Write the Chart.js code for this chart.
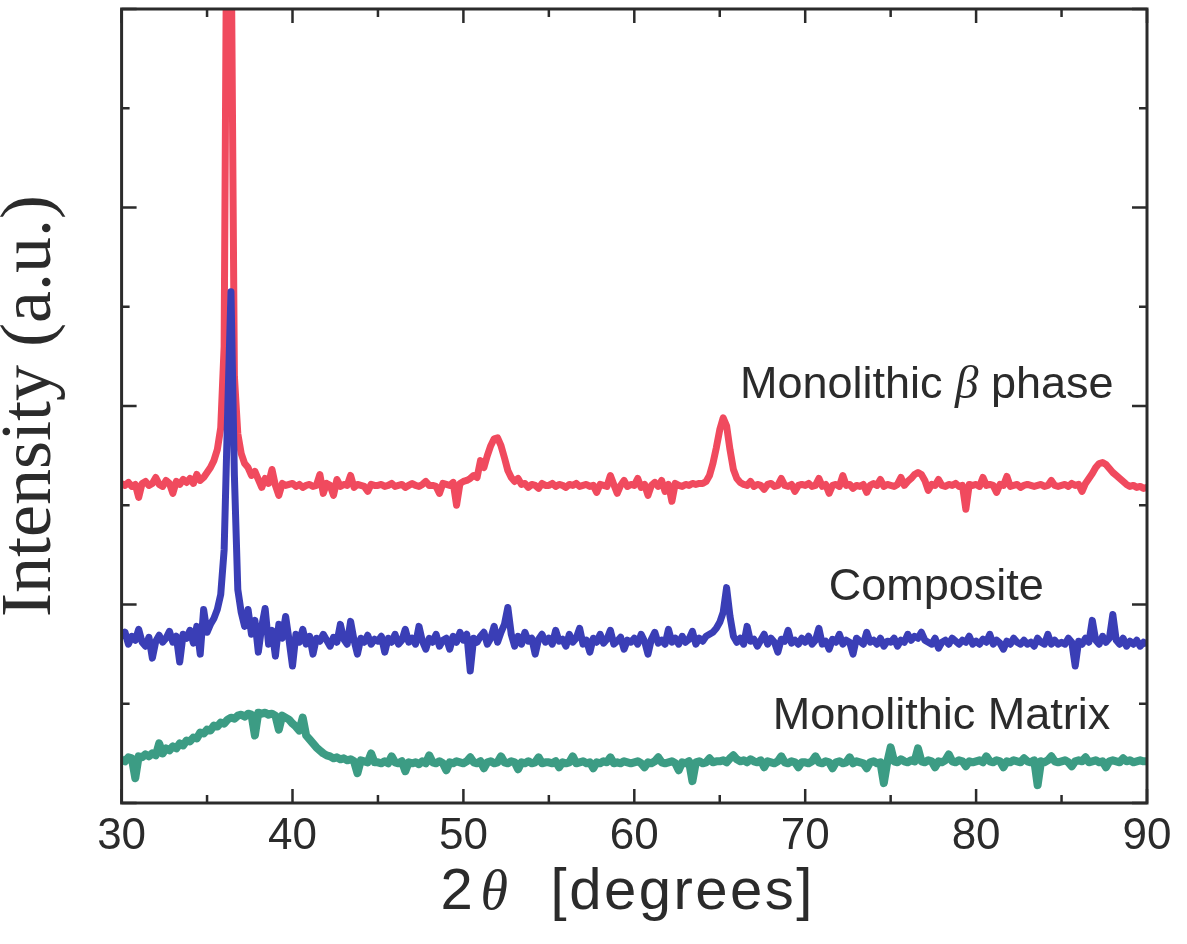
<!DOCTYPE html>
<html>
<head>
<meta charset="utf-8">
<title>XRD patterns</title>
<script src="https://cdn.jsdelivr.net/npm/chart.js@4.4.1/dist/chart.umd.min.js"></script>
<style>
  html, body { margin: 0; padding: 0; background: #fff; }
  #wrap { width: 1187px; height: 944px; }
</style>
</head>
<body>
<div id="wrap"><canvas id="xrdChart" width="1187" height="944"></canvas></div>
<script>
/* ---------------------------------------------------------
   Data: 2-theta grid (deg) and the three scans (a.u.),
   each scan already offset so the curves stack.
--------------------------------------------------------- */
const TWO_THETA = [
  30, 30.2, 30.4, 30.6, 30.8, 31, 31.2, 31.4, 31.6, 31.8, 32, 32.2, 32.4, 32.6, 32.8, 33, 33.2, 33.4, 33.6, 33.8, 34, 34.2, 34.4, 34.6, 34.8,
  35, 35.2, 35.4, 35.6, 35.8, 36, 36.2, 36.4, 36.6, 36.8, 37, 37.2, 37.4, 37.6, 37.8, 38, 38.2, 38.4, 38.6, 38.8, 39, 39.2, 39.4, 39.6, 39.8,
  40, 40.2, 40.4, 40.6, 40.8, 41, 41.2, 41.4, 41.6, 41.8, 42, 42.2, 42.4, 42.6, 42.8, 43, 43.2, 43.4, 43.6, 43.8, 44, 44.2, 44.4, 44.6, 44.8,
  45, 45.2, 45.4, 45.6, 45.8, 46, 46.2, 46.4, 46.6, 46.8, 47, 47.2, 47.4, 47.6, 47.8, 48, 48.2, 48.4, 48.6, 48.8, 49, 49.2, 49.4, 49.6, 49.8,
  50, 50.2, 50.4, 50.6, 50.8, 51, 51.2, 51.4, 51.6, 51.8, 52, 52.2, 52.4, 52.6, 52.8, 53, 53.2, 53.4, 53.6, 53.8, 54, 54.2, 54.4, 54.6, 54.8,
  55, 55.2, 55.4, 55.6, 55.8, 56, 56.2, 56.4, 56.6, 56.8, 57, 57.2, 57.4, 57.6, 57.8, 58, 58.2, 58.4, 58.6, 58.8, 59, 59.2, 59.4, 59.6, 59.8,
  60, 60.2, 60.4, 60.6, 60.8, 61, 61.2, 61.4, 61.6, 61.8, 62, 62.2, 62.4, 62.6, 62.8, 63, 63.2, 63.4, 63.6, 63.8, 64, 64.2, 64.4, 64.6, 64.8,
  65, 65.2, 65.4, 65.6, 65.8, 66, 66.2, 66.4, 66.6, 66.8, 67, 67.2, 67.4, 67.6, 67.8, 68, 68.2, 68.4, 68.6, 68.8, 69, 69.2, 69.4, 69.6, 69.8,
  70, 70.2, 70.4, 70.6, 70.8, 71, 71.2, 71.4, 71.6, 71.8, 72, 72.2, 72.4, 72.6, 72.8, 73, 73.2, 73.4, 73.6, 73.8, 74, 74.2, 74.4, 74.6, 74.8,
  75, 75.2, 75.4, 75.6, 75.8, 76, 76.2, 76.4, 76.6, 76.8, 77, 77.2, 77.4, 77.6, 77.8, 78, 78.2, 78.4, 78.6, 78.8, 79, 79.2, 79.4, 79.6, 79.8,
  80, 80.2, 80.4, 80.6, 80.8, 81, 81.2, 81.4, 81.6, 81.8, 82, 82.2, 82.4, 82.6, 82.8, 83, 83.2, 83.4, 83.6, 83.8, 84, 84.2, 84.4, 84.6, 84.8,
  85, 85.2, 85.4, 85.6, 85.8, 86, 86.2, 86.4, 86.6, 86.8, 87, 87.2, 87.4, 87.6, 87.8, 88, 88.2, 88.4, 88.6, 88.8, 89, 89.2, 89.4, 89.6, 89.8,
  90
];

// monolithic beta phase (top trace)
const BETA_PHASE = [
  3.22, 3.20, 3.23, 3.19, 3.21, 3.08, 3.22, 3.24, 3.20, 3.22, 3.28, 3.21, 3.19, 3.25, 3.22, 3.12, 3.24, 3.21, 3.26, 3.23, 3.27, 3.22, 3.31, 3.25, 3.28,
  3.33, 3.38, 3.45, 3.56, 3.78, 4.60, 10.5, 9.00, 4.30, 3.72, 3.52, 3.42, 3.38, 3.30, 3.34, 3.26, 3.18, 3.27, 3.22, 3.36, 3.20, 3.10, 3.22, 3.20, 3.21,
  3.22, 3.19, 3.21, 3.18, 3.20, 3.21, 3.19, 3.20, 3.31, 3.12, 3.22, 3.20, 3.10, 3.26, 3.19, 3.21, 3.20, 3.30, 3.18, 3.21, 3.20, 3.19, 3.14, 3.21, 3.20,
  3.20, 3.21, 3.19, 3.20, 3.22, 3.19, 3.20, 3.21, 3.18, 3.20, 3.22, 3.20, 3.19, 3.21, 3.24, 3.20, 3.20, 3.19, 3.12, 3.22, 3.21, 3.20, 3.23, 3.00, 3.22,
  3.24, 3.25, 3.27, 3.30, 3.28, 3.45, 3.38, 3.50, 3.60, 3.67, 3.68, 3.60, 3.48, 3.35, 3.28, 3.24, 3.27, 3.21, 3.22, 3.18, 3.21, 3.20, 3.17, 3.22, 3.20,
  3.20, 3.22, 3.19, 3.21, 3.20, 3.18, 3.21, 3.20, 3.22, 3.19, 3.20, 3.21, 3.19, 3.20, 3.13, 3.21, 3.20, 3.19, 3.30, 3.21, 3.12, 3.20, 3.25, 3.19, 3.21,
  3.20, 3.27, 3.18, 3.21, 3.10, 3.20, 3.23, 3.19, 3.25, 3.14, 3.21, 3.04, 3.22, 3.20, 3.19, 3.21, 3.20, 3.22, 3.21, 3.22, 3.22, 3.24, 3.30, 3.42, 3.58,
  3.76, 3.88, 3.80, 3.56, 3.36, 3.27, 3.23, 3.21, 3.20, 3.24, 3.19, 3.21, 3.20, 3.16, 3.21, 3.22, 3.19, 3.20, 3.27, 3.20, 3.19, 3.21, 3.14, 3.20, 3.21,
  3.20, 3.22, 3.19, 3.20, 3.27, 3.19, 3.21, 3.12, 3.20, 3.21, 3.19, 3.30, 3.20, 3.21, 3.17, 3.20, 3.19, 3.21, 3.13, 3.20, 3.22, 3.20, 3.26, 3.19, 3.21,
  3.20, 3.19, 3.21, 3.28, 3.20, 3.24, 3.27, 3.31, 3.33, 3.31, 3.25, 3.15, 3.21, 3.20, 3.26, 3.20, 3.19, 3.21, 3.20, 3.22, 3.19, 3.20, 2.96, 3.21, 3.20,
  3.21, 3.19, 3.28, 3.20, 3.21, 3.20, 3.13, 3.21, 3.20, 3.29, 3.19, 3.20, 3.21, 3.18, 3.20, 3.21, 3.20, 3.19, 3.20, 3.21, 3.19, 3.20, 3.25, 3.20, 3.19,
  3.20, 3.21, 3.19, 3.22, 3.20, 3.21, 3.14, 3.22, 3.27, 3.32, 3.38, 3.42, 3.43, 3.41, 3.37, 3.33, 3.30, 3.27, 3.24, 3.21, 3.19, 3.20, 3.18, 3.19, 3.17,
  3.18
];

// composite (middle trace)
const COMPOSITE = [
  1.66, 1.72, 1.60, 1.68, 1.64, 1.75, 1.62, 1.58, 1.67, 1.46, 1.63, 1.69, 1.62, 1.66, 1.73, 1.62, 1.68, 1.42, 1.70, 1.66, 1.74, 1.61, 1.78, 1.50, 1.95,
  1.72, 1.80, 1.86, 1.95, 2.10, 2.55, 3.90, 5.15, 3.30, 2.15, 1.92, 1.78, 1.95, 1.70, 1.84, 1.52, 1.78, 1.96, 1.60, 1.74, 1.48, 1.80, 1.66, 1.88, 1.64,
  1.38, 1.70, 1.62, 1.75, 1.60, 1.68, 1.50, 1.66, 1.63, 1.70, 1.64, 1.58, 1.67, 1.62, 1.80, 1.65, 1.60, 1.83, 1.64, 1.50, 1.66, 1.62, 1.69, 1.60, 1.65,
  1.63, 1.68, 1.52, 1.66, 1.62, 1.70, 1.60, 1.64, 1.75, 1.62, 1.66, 1.60, 1.78, 1.63, 1.55, 1.66, 1.62, 1.70, 1.58, 1.64, 1.66, 1.55, 1.68, 1.62, 1.72,
  1.64, 1.70, 1.33, 1.66, 1.62, 1.68, 1.72, 1.60, 1.66, 1.78, 1.62, 1.72, 1.80, 1.97, 1.70, 1.58, 1.68, 1.60, 1.72, 1.63, 1.66, 1.50, 1.65, 1.70, 1.62,
  1.66, 1.60, 1.74, 1.63, 1.65, 1.58, 1.70, 1.62, 1.66, 1.76, 1.60, 1.64, 1.52, 1.66, 1.62, 1.70, 1.61, 1.65, 1.74, 1.60, 1.63, 1.67, 1.55, 1.64, 1.62,
  1.66, 1.60, 1.70, 1.63, 1.50, 1.65, 1.72, 1.61, 1.64, 1.60, 1.75, 1.62, 1.66, 1.60, 1.68, 1.62, 1.65, 1.73, 1.60, 1.66, 1.63, 1.68, 1.70, 1.72, 1.76,
  1.82, 1.92, 2.17, 1.88, 1.68, 1.62, 1.66, 1.60, 1.78, 1.63, 1.65, 1.58, 1.64, 1.70, 1.60, 1.66, 1.62, 1.52, 1.65, 1.63, 1.74, 1.61, 1.64, 1.60, 1.66,
  1.62, 1.68, 1.60, 1.64, 1.76, 1.60, 1.63, 1.55, 1.65, 1.62, 1.70, 1.60, 1.64, 1.62, 1.50, 1.66, 1.63, 1.60, 1.72, 1.62, 1.64, 1.60, 1.66, 1.58, 1.63,
  1.62, 1.66, 1.58, 1.64, 1.62, 1.70, 1.64, 1.68, 1.66, 1.72, 1.64, 1.62, 1.60, 1.66, 1.56, 1.62, 1.64, 1.60, 1.66, 1.63, 1.60, 1.64, 1.62, 1.68, 1.60,
  1.63, 1.60, 1.65, 1.62, 1.70, 1.60, 1.64, 1.61, 1.55, 1.63, 1.60, 1.66, 1.62, 1.60, 1.64, 1.60, 1.62, 1.58, 1.66, 1.62, 1.60, 1.70, 1.60, 1.64, 1.60,
  1.62, 1.60, 1.66, 1.62, 1.38, 1.63, 1.60, 1.66, 1.62, 1.84, 1.64, 1.60, 1.68, 1.62, 1.66, 1.90, 1.64, 1.60, 1.66, 1.58, 1.63, 1.60, 1.64, 1.58, 1.62,
  1.60
];

// monolithic matrix (bottom trace, broad amorphous hump)
const MATRIX = [
  0.44, 0.42, 0.46, 0.45, 0.25, 0.47, 0.46, 0.49, 0.47, 0.50, 0.48, 0.60, 0.50, 0.55, 0.53, 0.57, 0.55, 0.60, 0.58, 0.63, 0.62, 0.66, 0.65, 0.71, 0.70,
  0.74, 0.73, 0.78, 0.77, 0.81, 0.80, 0.84, 0.86, 0.85, 0.88, 0.89, 0.87, 0.90, 0.89, 0.68, 0.91, 0.90, 0.91, 0.89, 0.90, 0.88, 0.74, 0.88, 0.86, 0.84,
  0.80, 0.77, 0.73, 0.86, 0.68, 0.64, 0.60, 0.56, 0.53, 0.50, 0.48, 0.47, 0.45, 0.46, 0.44, 0.45, 0.43, 0.44, 0.42, 0.30, 0.43, 0.42, 0.41, 0.50, 0.41,
  0.41, 0.40, 0.42, 0.40, 0.47, 0.41, 0.40, 0.42, 0.32, 0.41, 0.40, 0.41, 0.39, 0.42, 0.40, 0.48, 0.41, 0.40, 0.42, 0.40, 0.33, 0.41, 0.40, 0.42, 0.41,
  0.40, 0.42, 0.46, 0.41, 0.40, 0.42, 0.35, 0.41, 0.42, 0.40, 0.41, 0.47, 0.41, 0.40, 0.42, 0.41, 0.34, 0.41, 0.40, 0.42, 0.40, 0.41, 0.46, 0.40, 0.41,
  0.41, 0.40, 0.42, 0.36, 0.41, 0.40, 0.41, 0.47, 0.40, 0.41, 0.42, 0.40, 0.41, 0.35, 0.41, 0.40, 0.42, 0.41, 0.46, 0.40, 0.41, 0.40, 0.42, 0.41, 0.40,
  0.41, 0.42, 0.40, 0.36, 0.41, 0.40, 0.42, 0.46, 0.41, 0.40, 0.41, 0.42, 0.40, 0.33, 0.41, 0.40, 0.42, 0.22, 0.41, 0.42, 0.40, 0.41, 0.45, 0.41, 0.42,
  0.42, 0.43, 0.41, 0.45, 0.48, 0.44, 0.42, 0.43, 0.41, 0.44, 0.42, 0.41, 0.43, 0.36, 0.42, 0.41, 0.40, 0.42, 0.47, 0.41, 0.40, 0.42, 0.41, 0.36, 0.41,
  0.41, 0.40, 0.42, 0.47, 0.41, 0.40, 0.42, 0.41, 0.35, 0.41, 0.42, 0.40, 0.41, 0.46, 0.40, 0.42, 0.41, 0.40, 0.35, 0.41, 0.42, 0.40, 0.41, 0.20, 0.41,
  0.56, 0.42, 0.41, 0.44, 0.42, 0.41, 0.43, 0.42, 0.55, 0.42, 0.41, 0.43, 0.42, 0.36, 0.42, 0.41, 0.43, 0.49, 0.42, 0.41, 0.43, 0.42, 0.37, 0.42, 0.41,
  0.42, 0.43, 0.41, 0.47, 0.42, 0.41, 0.43, 0.42, 0.36, 0.42, 0.41, 0.43, 0.42, 0.41, 0.45, 0.42, 0.41, 0.43, 0.18, 0.42, 0.41, 0.43, 0.47, 0.42, 0.41,
  0.42, 0.43, 0.41, 0.37, 0.42, 0.43, 0.42, 0.46, 0.41, 0.42, 0.43, 0.41, 0.42, 0.36, 0.42, 0.43, 0.42, 0.41, 0.45, 0.42, 0.43, 0.41, 0.42, 0.43, 0.42,
  0.42
];

// tick positions (inward marks on all four sides)
const X_MAJOR = [30, 40, 50, 60, 70, 80, 90];
const X_MINOR = [35, 45, 55, 65, 75, 85];
const Y_MAJOR = [0, 2, 4, 6, 8];
const Y_MINOR = [1, 3, 5, 7];

/* ---------------------------------------------------------
   Styling
--------------------------------------------------------- */
const INK   = '#2b2b2b';
const SANS  = '"Liberation Sans", Arial, Helvetica, sans-serif';
const SERIF = '"Liberation Serif", "Times New Roman", serif';

// trace captions: text runs anchored in data units (left edge, baseline)
const CAPTIONS = [
  { at: [66.18, 4.08], runs: [
      { text: 'Monolithic ', font: '45px ' + SANS },
      { text: 'β',           font: 'italic 47px ' + SERIF },
      { text: ' phase',      font: '45px ' + SANS } ] },
  { at: [71.38, 2.05], runs: [ { text: 'Composite', font: '45px ' + SANS } ] },
  { at: [68.1, 0.75],  runs: [ { text: 'Monolithic Matrix', font: '45px ' + SANS } ] }
];

function series(label, values, color, width) {
  return {
    label,
    data: TWO_THETA.map((t, i) => ({ x: t, y: values[i] })),
    borderColor: color,
    borderWidth: width,
    borderJoinStyle: 'round',
    pointRadius: 0,
    tension: 0,
    clip: 0
  };
}

function drawRuns(ctx, runs, x, y) {
  let cx = x;
  runs.forEach(r => {
    ctx.font = r.font;
    ctx.letterSpacing = r.spacing || '0px';
    ctx.fillText(r.text, cx, y);
    cx += ctx.measureText(r.text).width;
  });
  ctx.letterSpacing = '0px';
}

/* frame + inward tick marks, drawn over the traces */
const frameMarks = {
  id: 'frameMarks',
  afterDatasetsDraw(chart) {
    const { ctx, chartArea: a, scales: { x, y } } = chart;
    ctx.save();
    ctx.strokeStyle = INK;
    ctx.lineWidth = 3;
    ctx.strokeRect(a.left, a.top, a.right - a.left, a.bottom - a.top);

    ctx.lineWidth = 2.5;
    ctx.beginPath();
    const xMark = (v, len) => {
      const px = x.getPixelForValue(v);
      ctx.moveTo(px, a.bottom); ctx.lineTo(px, a.bottom - len);
      ctx.moveTo(px, a.top);    ctx.lineTo(px, a.top + len);
    };
    const yMark = (v, len) => {
      const py = y.getPixelForValue(v);
      ctx.moveTo(a.left, py);  ctx.lineTo(a.left + len, py);
      ctx.moveTo(a.right, py); ctx.lineTo(a.right - len, py);
    };
    X_MAJOR.forEach(v => xMark(v, 14));
    X_MINOR.forEach(v => xMark(v, 8));
    Y_MAJOR.forEach(v => yMark(v, 15));
    Y_MINOR.forEach(v => yMark(v, 8));
    ctx.stroke();
    ctx.restore();
  }
};

/* trace captions and the 2θ axis title (mixed upright / italic glyphs) */
const captions = {
  id: 'captions',
  afterDraw(chart) {
    const { ctx, chartArea: a, scales: { x, y } } = chart;
    ctx.save();
    ctx.fillStyle = INK;
    ctx.textBaseline = 'alphabetic';
    ctx.textAlign = 'left';

    CAPTIONS.forEach(c => {
      drawRuns(ctx, c.runs, x.getPixelForValue(c.at[0]), y.getPixelForValue(c.at[1]));
    });

    // x-axis title: "2θ [degrees]"
    const tx = a.left + 319, ty = a.bottom + 106;
    ctx.font = '58px ' + SANS;
    ctx.fillText('2', tx, ty);
    ctx.font = 'italic 56px ' + SERIF;
    ctx.fillText('θ', tx + 40, ty);
    ctx.font = '58px ' + SANS;
    ctx.letterSpacing = '2.5px';
    ctx.fillText('[degrees]', tx + 110, ty);
    ctx.restore();
  }
};

new Chart(document.getElementById('xrdChart'), {
  type: 'line',
  data: {
    datasets: [
      series('Composite',          COMPOSITE,  '#3a3eb6', 7),
      series('Monolithic β phase', BETA_PHASE, '#f04a5e', 7),
      series('Monolithic Matrix',  MATRIX,     '#3c9c84', 8)
    ]
  },
  options: {
    responsive: false,
    animation: false,
    events: [],
    layout: { padding: { top: 9, right: 40, bottom: 73, left: 0 } },
    plugins: {
      legend:  { display: false },
      tooltip: { enabled: false }
    },
    scales: {
      x: {
        type: 'linear',
        min: 30, max: 90,
        grid:   { display: false, drawTicks: false },
        border: { display: false },
        ticks: {
          stepSize: 10,
          padding: 12,
          color: INK,
          font: { family: SANS, size: 44, lineHeight: 1 }
        }
      },
      y: {
        min: 0, max: 8,
        grid:   { display: false, drawTicks: false },
        border: { display: false },
        ticks:  { display: false },
        title: {
          display: true,
          text: 'Intensity (a.u.)',
          color: INK,
          font: { family: SERIF, size: 72, lineHeight: 0.8 },
          padding: { top: 2, bottom: 62 }
        }
      }
    }
  },
  plugins: [frameMarks, captions]
});
</script>
</body>
</html>
